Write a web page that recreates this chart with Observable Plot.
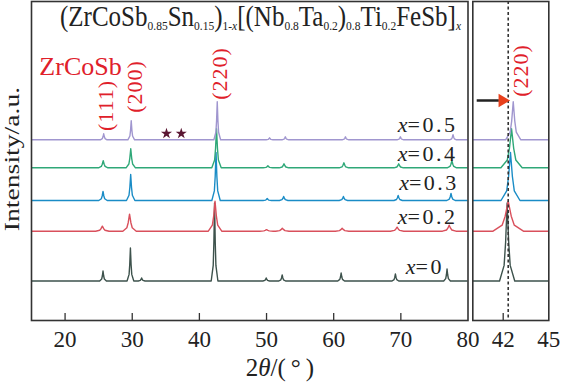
<!DOCTYPE html>
<html><head><meta charset="utf-8">
<script src="https://cdn.jsdelivr.net/npm/d3@7"></script>
<script src="https://cdn.jsdelivr.net/npm/@observablehq/plot@0.6"></script>
<style>
body{margin:0;background:#fff;}
#wrap{position:relative;width:561px;height:384px;overflow:hidden;font-family:"Liberation Serif","Times New Roman",serif;color:#222;}
#left,#right{position:absolute;top:0;}
#left{left:0;}
#right{left:469px;}
.ov{position:absolute;white-space:nowrap;line-height:1;}
#title{left:60px;top:6px;font-size:25px;transform:scale(1,1.15);transform-origin:left bottom;}
#title sub{font-size:11.5px;vertical-align:-3px;line-height:0;}
#ylab{left:11.7px;top:158.5px;font-size:20.5px;transform:translate(-50%,-50%) rotate(-90deg) scaleX(1.35);}
#xlab{left:280px;top:355px;font-size:25px;transform:translateX(-50%);}
</style></head><body>
<div id="wrap">
 <div id="left"></div><div id="right"></div>
 <div class="ov" id="title">(ZrCoSb<sub>0.85</sub>Sn<sub>0.15</sub>)<sub>1-<i>x</i></sub>[(Nb<sub>0.8</sub>Ta<sub>0.2</sub>)<sub>0.8</sub>Ti<sub>0.2</sub>FeSb]<sub><i>x</i></sub></div>
 <div class="ov" id="ylab">Intensity/a.u.</div>
 <div class="ov" id="xlab">2<i>θ</i>/(&thinsp;°&thinsp;)</div>
</div>
<script>
// ---- data ----
const names = ["x=0", "x=0.2", "x=0.3", "x=0.4", "x=0.5"];
const colors = ["#3d524c", "#d9505c", "#1a8cc6", "#2fa878", "#a096cf"];
const baselines = [39.5, 89.3, 120, 152.7, 180.7];   // vertical offset of each pattern (a.u.)
const fwhm = [0.2, 0.4, 0.25, 0.28, 0.2];              // peak width (deg)
const pos0 = [25.65, 29.73, 31.4, 42.26, 49.95, 52.33, 61.11, 69.19, 76.88];
const int0 = [10, 33, 3, 78, 3, 6, 8, 7, 12];
const pos2 = [25.55, 29.6, 42.33, 50.0, 52.35, 61.26, 69.44, 77.2];
const int2 = [5, 17, 30, 1.5, 3, 3, 4, 6];
const pos3 = [25.65, 29.77, 42.48, 50.1, 52.55, 61.45, 69.6, 77.47];
const int3 = [9, 26, 48, 2, 4, 4, 5, 7];
const pos4 = [25.68, 29.78, 42.55, 50.2, 52.6, 61.52, 69.68, 77.6];
const int4 = [7, 19, 39, 2, 4, 5, 4, 7];
const pos5 = [25.75, 29.85, 42.66, 50.45, 52.8, 61.75, 69.93, 77.77];
const int5 = [6, 19, 38, 2, 3, 3, 3, 5];
// peak outline template: [offset in FWHM units, fraction of peak height]
const peakShape = [[-2.5, 0], [-1, 0.2], [-0.5, 0.5], [0, 1], [0.5, 0.5], [1, 0.2], [2.5, 0]];

const xTicksLeft = [20, 30, 40, 50, 60, 70, 80];
const xTicksRight = [42, 45];
const hkl = ["(111)", "(200)", "(220)"];
const hklX = [26.07, 30.4, 43.0];
const hklY = [215, 234, 247];
const starX = [35.1, 37.3];
const starY = [187, 187];
const labX = [72.2, 71.0, 71.2, 71.0, 71.0];
const labY = [53.5, 104, 137.5, 167, 196];
const labText = ["=0", "=0.2", "=0.3", "=0.4", "=0.5"];
const refLine = 42.33;

const allPos = [pos0, pos2, pos3, pos4, pos5];
const allInt = [int0, int2, int3, int4, int5];

const rows = [];
names.forEach((s, i) => {
  rows.push({x: 14, y: baselines[i], s});
  allPos[i].forEach((p, j) => {
    peakShape.forEach(([dx, f]) => rows.push({x: p + dx * fwhm[i], y: baselines[i] + f * allInt[i][j], s}));
  });
  rows.push({x: 81, y: baselines[i], s});
});
const labs = names.map((s, i) => ({x: labX[i], y: labY[i], t: labText[i]}));
const hklRows = hkl.map((t, i) => ({t, x: hklX[i], y: hklY[i]}));
const stars = starX.map((x, i) => ({x, y: starY[i]}));

const FONT = "Liberation Serif";
const yScale = {domain: [0, 319], axis: null};
const colorScale = {domain: names, range: colors};

const left = Plot.plot({
  width: 470, height: 384,
  marginLeft: 31, marginRight: 2.5, marginTop: 1, marginBottom: 64,
  style: {background: "transparent", fontFamily: FONT, overflow: "visible"},
  x: {domain: [15, 80], axis: null},
  y: yScale, color: colorScale,
  marks: [
    Plot.line(rows, {x: "x", y: "y", z: "s", stroke: "s", strokeWidth: 1.4, clip: true}),
    Plot.ruleX(xTicksLeft.slice(0, -1), {x: d => d, y1: 0, y2: 7, stroke: "#333", strokeWidth: 1.3}),
    Plot.frame({stroke: "#333", strokeWidth: 1.6}),
    Plot.axisX(xTicksLeft, {tickSize: 0, tickPadding: 10, fontSize: 23, fill: "#222", tickFormat: d => d, label: null}),
    Plot.dot(stars, {x: "x", y: "y", symbol: "star", fill: "#5a1632", r: 3.5}),
    Plot.text(hklRows, {x: "x", y: "y", text: "t", rotate: -90, fill: "#e0202a", fontSize: 22}),
    Plot.text([{x: 22.3, y: 254}], {x: "x", y: "y", text: () => "ZrCoSb", fill: "#e0202a", fontSize: 26}),
    Plot.text(labs, {x: "x", y: "y", text: () => "x", fontStyle: "italic", textAnchor: "end", fontSize: 22, fill: "#222"}),
    Plot.text(labs, {x: "x", y: "y", text: "t", textAnchor: "start", fontSize: 22, fill: "#222"})
  ]
});
d3.select(left).selectAll("text").filter(function() { return /^=/.test(this.textContent); }).attr("letter-spacing", 2.5);
d3.select(left).selectAll("text").filter(function() { return /^\(/.test(this.textContent); }).attr("letter-spacing", 1);
document.getElementById("left").append(left);

const right = Plot.plot({
  width: 92, height: 384,
  marginLeft: 3.3, marginRight: 12.7, marginTop: 1, marginBottom: 64,
  style: {background: "transparent", fontFamily: FONT, overflow: "visible"},
  x: {domain: [40, 45], axis: null},
  y: yScale, color: colorScale,
  marks: [
    Plot.line(rows, {x: "x", y: "y", z: "s", stroke: "s", strokeWidth: 1.4, clip: true}),
    Plot.ruleX([refLine], {x: d => d, stroke: "#333", strokeWidth: 1.6, strokeDasharray: "3,2.5"}),
    Plot.ruleX([42], {x: d => d, y1: 0, y2: 7, stroke: "#333", strokeWidth: 1.3}),
    Plot.frame({stroke: "#333", strokeWidth: 1.6}),
    Plot.axisX(xTicksRight, {tickSize: 0, tickPadding: 10, fontSize: 23, fill: "#222", tickFormat: d => d, label: null}),
    Plot.ruleY([220], {x1: 40.29, x2: 41.75, stroke: "#222", strokeWidth: 2.5}),
    Plot.dot([{x: 41.95, y: 220}], {x: "x", y: "y", symbol: "triangle", rotate: 90, r: 5, fill: "#e8401c"}),
    Plot.text([{x: 43.14, y: 250}], {x: "x", y: "y", text: () => "(220)", rotate: -90, fill: "#e0202a", fontSize: 22})
  ]
});
d3.select(right).selectAll("text").filter(function() { return /^\(/.test(this.textContent); }).attr("letter-spacing", 1);
document.getElementById("right").append(right);
</script>
</body></html>
